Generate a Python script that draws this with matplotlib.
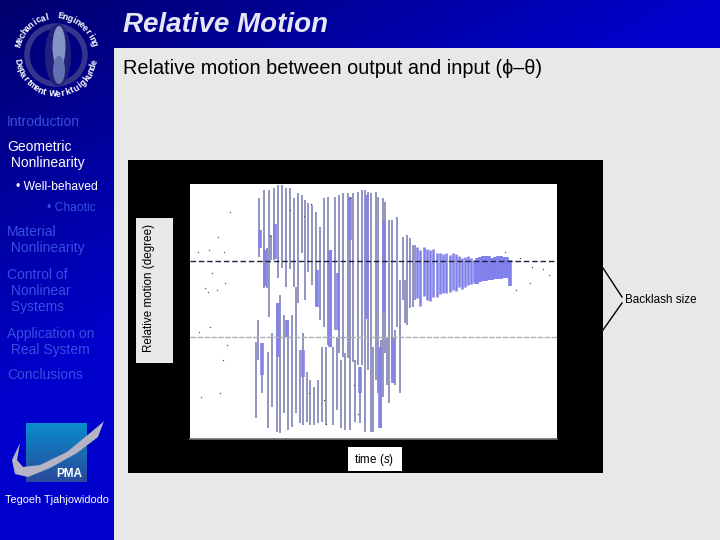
import numpy as np
import matplotlib
matplotlib.use('Agg')
import matplotlib.pyplot as plt
from matplotlib.colors import LinearSegmentedColormap
from matplotlib.patches import Rectangle, Circle, Ellipse, Polygon

plt.rcParams['font.family'] = ['Liberation Sans', 'DejaVu Sans']
plt.rcParams['mathtext.fontset'] = 'custom'
plt.rcParams['mathtext.it'] = 'Liberation Sans:italic'

# Data: time [s], upper and lower end of each swing
swing_t = [6.6, 6.8, 6.9, 7.0, 7.2, 7.4, 7.7, 7.8, 7.9, 8.1, 8.2, 8.4, 8.7, 8.8, 9.0, 9.2, 9.4, 9.6, 9.8,
           10.0, 10.2, 10.4, 10.6, 10.8, 11.0, 11.2, 11.3, 11.5, 11.7, 11.8, 12.0, 12.2, 12.4, 12.6, 12.8,
           13.0, 13.2, 13.4, 13.6, 13.8, 14.1, 14.3, 14.5, 14.7, 14.9, 15.1, 15.3, 15.5, 15.8, 16.0, 16.3,
           16.5, 16.8, 17.0, 17.2, 17.5, 17.8, 18.1, 18.3, 18.6, 18.8, 19.1, 19.3, 19.5, 19.7, 19.9, 20.2,
           20.5, 20.7, 21.0, 21.3, 21.5, 21.7, 22.0, 22.3, 22.5]
swing_hi = [-4.3, -2.1, 10.1, 6.9, -4.4, 10.9, 5.1, -5.3, 10.9, 6.4, -3.4, 11.1, -0.4, 11.4, 0.4, 11.4, -1.6, 11.1, -2.1,
            11.1, -1.6, 10.1, 1.2, 10.6, -5.1, 10.4, -3.4, 9.9, -7.3, 9.6, -8.1, 9.4, -8.8, 8.7, -8.1,
            7.2, -4.8, 10.1, -4.8, 10.2, 4.9, -4.8, 10.2, -3.8, 10.4, -6.1, 10.6, -5.4, 10.6, 9.9, 10.6,
            -6.1, 10.7, -6.8, 10.9, 10.9, 10.7, 10.6, -4.8, 10.7, 10.2, -4.1, 10.1, 9.7, -3.8, 7.9, 7.9,
            -3.1, 8.2, 1.9, 6.2, 1.9, 6.4, 6.1, 5.4, 5.4]
swing_lo = [-11.9, -6.1, 4.2, 5.1, -9.4, 1.1, 1.1, -12.9, -1.8, 3.9, -10.8, 3.9, -13.3, 2.1, -13.4, 3.1, -11.4, 1.2, -13.1,
            3.0, -12.8, 1.2, -11.4, -0.4, -12.4, 4.6, -12.6, -0.1, -12.3, 2.7, -12.6, 1.4, -12.6, -0.6, -12.4,
            -2.1, -12.3, -2.8, -12.6, -4.6, -4.8, -12.6, -3.1, -11.1, -5.4, -12.9, -5.8, -13.1, -5.9, -13.1, -6.3,
            -12.3, -6.6, -12.4, -6.6, -13.3, -7.1, -13.3, -13.3, -8.1, -9.4, -12.9, -9.8, -5.4, -8.6, -10.4, -8.1,
            -8.6, -2.8, -9.4, -0.1, -2.4, -2.6, -0.9, -0.8, -0.1]

# Parts where the swings overlap and the trace looks solid
solid_t = [7.0, 7.2, 7.5, 8.5, 8.8, 9.7, 11.3, 12.7, 14.0, 14.8, 16.0, 17.0, 19.0, 19.4, 20.3, 17.7]
solid_hi = [6.9, -4.4, 4.9, 7.5, -0.4, -2.1, -5.1, 2.9, 4.9, 2.6, 10.2, -6.8, -4.8, 7.9, -3.8, 10.4]
solid_lo = [5.1, -7.6, 1.3, 4.0, -5.8, -3.8, -7.8, -0.8, -4.8, -3.1, 5.9, -9.4, -12.9, -1.4, -8.4, -2.0]

# Decay to the steady state
decay_t = [22.7, 23.0, 23.4, 23.7, 24.0, 24.3, 24.7, 25.0, 25.3, 25.6, 26.0, 26.3, 26.6, 26.9, 27.2, 27.5, 27.8,
           28.1, 28.4, 28.7, 29.0, 29.3, 29.6, 29.9, 30.2, 30.5, 30.8, 31.1, 31.4, 31.7, 32.0]
decay_hi = [5.2, 4.9, 5.2, 5.0, 4.9, 5.0, 4.6, 4.6, 4.5, 4.6, 4.4, 4.6, 4.5, 4.3, 4.1, 4.2, 4.3,
            4.1, 3.9, 4.1, 4.2, 4.3, 4.3, 4.3, 4.1, 4.2, 4.3, 4.3, 4.2, 4.2, 3.9]
decay_lo = [0.1, -0.7, 0.3, -0.1, -0.2, 0.2, 0.2, 0.5, 0.6, 0.6, 0.7, 0.9, 0.8, 1.2, 1.0, 1.2, 1.4,
            1.5, 1.6, 1.5, 1.7, 1.8, 1.8, 1.9, 1.9, 2.0, 2.0, 2.0, 2.1, 2.1, 1.3]

# Stray samples outside the swings
dots_t = [0.8, 1.9, 2.8, 3.4, 4.0, 3.5, 1.5, 2.2, 2.7, 1.8, 0.9, 2.0, 3.3, 3.7, 1.1, 3.0, 31.5, 33.0, 34.2, 35.3, 35.9, 32.6, 34.0,
          10.0, 11.4, 12.1, 8.0, 11.9, 13.4, 13.6, 16.0, 16.4, 16.8]
dots_y = [4.7, 4.9, 6.2, 4.7, 8.7, 1.6, 1.1, 2.6, 0.9, 0.7, -3.3, -2.8, -6.1, -4.6, -9.8, -9.4, 4.7, 4.1, 3.2, 3.0, 2.4, 0.9, 1.6,
          8.9, 8.3, 9.5, 6.3, -9.4, -10.1, -12.5, 10.1, -8.6, -11.5]

backlash = 3.8
section_labels = ['Introduction', 'Geometric\n Nonlinearity', 'Material\n Nonlinearity',
                  'Control of\n Nonlinear\n Systems', 'Application on\n Real System', 'Conclusions']
section_y = [122, 155, 240, 291, 342, 375]
section_colors = ['#3a4ee0', 'white', '#3a4ee0', '#3a4ee0', '#3a4ee0', '#3a4ee0']

fig = plt.figure(figsize=(7.2, 5.4), dpi=100, facecolor='#e8e8e8')

# Slide layer, in pixels
bg = fig.add_axes([0, 0, 1, 1])
bg.axis('off')

# Blue background runs from dark top left to bright
xx, yy = np.meshgrid(np.linspace(0, 1, 144), np.linspace(0, 1, 108))
shade = np.clip(xx + yy * 1.35, 0, 1)
bg.imshow(shade, extent=(0, 720, 540, 0), aspect='auto', cmap=LinearSegmentedColormap.from_list('blue', ['#00006e', '#0000cc']))
bg.add_patch(Rectangle((114, 48), 606, 492, color='#e8e8e8', lw=0))

bg.text(123, 25, 'Relative Motion', color='#e6e6f4', fontsize=20, style='italic', weight='bold', va='center')
bg.text(123, 68, 'Relative motion between output and input (\u03d5\u2013\u03b8)', color='black', fontsize=14.3, va='center')

for label, y, col in zip(section_labels, section_y, section_colors):
    bg.text(7, y, label, color=col, fontsize=10, va='center', linespacing=1.15)
bg.text(16, 187, '\u2022 Well-behaved', color='white', fontsize=8.7, va='center')
bg.text(47, 208, '\u2022 Chaotic', color='#3a4ee0', fontsize=8.7, va='center')

# University logo
cx, cy = 56, 55
bg.add_patch(Circle((cx, cy), 29, fill=False, ec='#34348c', lw=4))
bg.add_patch(Ellipse((cx + 2, cy), 26, 62, color='#20207c', lw=0))
bg.add_patch(Ellipse((cx + 3, cy - 8), 13, 42, color='#8494c4', lw=0))
bg.add_patch(Ellipse((cx + 3, cy + 15), 12, 28, color='#6070b0', lw=0))
for ch, ang in zip('Mechanical  Engineering', np.linspace(163, 17, 23)):
    r = np.radians(ang)
    bg.text(cx + 39 * np.cos(r), cy - 39 * np.sin(r), ch, color='white', fontsize=6.3, weight='bold',
            rotation=ang - 90, ha='center', va='center')
for ch, ang in zip('Department Werktuigkunde', np.linspace(190, 350, 24)):
    r = np.radians(ang)
    bg.text(cx + 39 * np.cos(r), cy - 39 * np.sin(r), ch, color='white', fontsize=6.3, weight='bold',
            rotation=ang + 90, ha='center', va='center')

# PMA logo
bg.imshow(np.linspace(0, 1, 60).reshape(-1, 1), extent=(26, 87, 482, 423), aspect='auto', zorder=2,
          cmap=LinearSegmentedColormap.from_list('pma', ['#0a8ccc', '#2a4a9c']))
swoosh = [(20, 443), (17, 460), (23, 467), (40, 465), (67, 452), (90, 433), (102, 423),
          (104, 421), (98, 437), (77, 453), (50, 468), (28, 477), (15, 474), (12, 460)]
bg.add_patch(Polygon(swoosh, closed=True, color='#b4b4c4', lw=0, zorder=3))
bg.text(69.5, 474, 'PMA', color='white', fontsize=8.5, weight='bold', ha='center', va='center', zorder=4)
bg.text(57, 500, 'Tegoeh Tjahjowidodo', color='white', fontsize=7.8, ha='center', va='center')

# Black frame and label boxes
bg.add_patch(Rectangle((128, 160), 475, 313, color='black', lw=0))
bg.add_patch(Rectangle((136, 218), 37, 145, color='#e8e8e8', lw=0))
bg.add_patch(Rectangle((348, 447), 54, 24, color='white', lw=0))
bg.text(149, 288, 'Relative motion (degree)', color='black', fontsize=8.4, rotation=90, ha='center', va='center')
bg.text(374, 460, r'time ($\mathit{s}$)', color='black', fontsize=8.4, ha='center', va='center')

bg.plot([603, 622], [268, 297], color='black', lw=1)
bg.plot([603, 622], [330, 303], color='black', lw=1)
bg.text(661, 300, 'Backlash size', color='black', fontsize=8.4, ha='center', va='center')
bg.set_xlim(0, 720)
bg.set_ylim(540, 0)

# Measurement plot
ax = fig.add_axes([190 / 720, 1 - 439 / 540, 367 / 720, 255 / 540])
ax.set_xlim(0, 36.7)
ax.set_ylim(-14, 11.5)
ax.set_xticks([])
ax.set_yticks([])
for side in ['top', 'left', 'right']:
    ax.spines[side].set_visible(False)
ax.spines['bottom'].set_color('#707070')
ax.spines['bottom'].set_linewidth(1.2)

ax.axhline(backlash, color='#202040', lw=1, ls=(0, (4, 2)), zorder=4)
ax.axhline(-backlash, color='#b0b0b0', lw=1, ls=(0, (4, 1)), zorder=4)
ax.vlines(swing_t, swing_lo, swing_hi, color='#8686bc', lw=1.25)
ax.vlines(solid_t, solid_lo, solid_hi, color='#8484e8', lw=2.6)
decay_lw = np.where(np.array(decay_t) < 28.5, 1.8, 2.6)
ax.vlines(decay_t, decay_lo, decay_hi, color='#8080ec', lw=decay_lw)
ax.plot(dots_t, dots_y, ls='none', marker='s', ms=0.9, color='#505050', mew=0, zorder=5)

fig.savefig('out.png', dpi=100, facecolor=fig.get_facecolor())
